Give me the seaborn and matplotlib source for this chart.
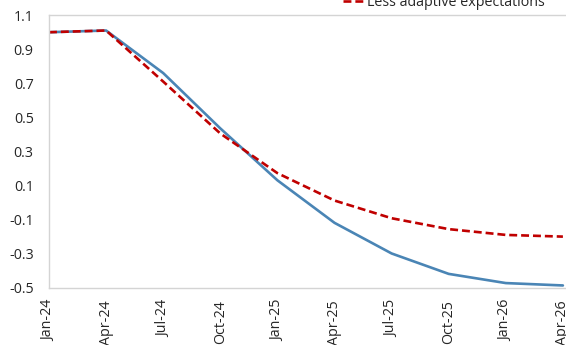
import matplotlib
matplotlib.use("Agg")
import matplotlib.pyplot as plt
import seaborn as sns
import numpy as np
import pandas as pd

quarters = ["Jan-24", "Apr-24", "Jul-24", "Oct-24", "Jan-25",
            "Apr-25", "Jul-25", "Oct-25", "Jan-26", "Apr-26"]
baseline = [1.00, 1.01, 0.76, 0.435, 0.13, -0.12, -0.30, -0.42, -0.474, -0.488]
less_adaptive = [1.00, 1.01, 0.71, 0.405, 0.172, 0.011, -0.093, -0.157, -0.191, -0.201]

series_names = ["Baseline", "Less adaptive expectations"]
colors = ["#4a85b5", "#c00000"]

df = pd.DataFrame({
    "t": np.tile(np.arange(len(quarters)), 2),
    "value": baseline + less_adaptive,
    "scenario": np.repeat(series_names, len(quarters)),
})

sns.set_style("white")
plt.rcParams["font.family"] = ["Open Sans", "DejaVu Sans"]

fig = plt.figure(figsize=(5.66, 3.45), dpi=100)
ax = fig.add_axes([49 / 566, 57.5 / 345, 517 / 566, 272.3 / 345])

sns.lineplot(data=df, x="t", y="value", hue="scenario", style="scenario",
             palette=colors, dashes={series_names[0]: "", series_names[1]: (3.0, 1.5)},
             linewidth=1.9, ax=ax, legend=False)

ax.set_xlim(0, 517 / 57.1)
ax.set_ylim(-0.5, 1.1)
yt = np.arange(-0.5, 1.11, 0.2)
ax.set_yticks(yt)
ax.set_yticklabels([f"{v:.1f}" for v in yt])
ax.set_xticks(np.arange(len(quarters)))
ax.set_xticklabels(quarters, rotation=90)
ax.set_xlabel("")
ax.set_ylabel("")

for side in ["left", "bottom", "top"]:
    ax.spines[side].set_color("#d4d4d4")
    ax.spines[side].set_linewidth(1.0)
ax.spines["right"].set_visible(False)
ax.tick_params(axis="both", direction="in", length=3.5, width=1.0,
               color="#d4d4d4", labelsize=10.3, labelcolor="#262626")
ax.tick_params(axis="x", pad=9)
ax.tick_params(axis="y", pad=11)

handles = ax.get_lines()[:2]
leg = fig.legend(handles, series_names, loc="lower left",
                 bbox_to_anchor=(343 / 566, 1 - 10 / 345),
                 bbox_transform=fig.transFigure, frameon=False,
                 fontsize=10.3, handlelength=1.55, handletextpad=0.15,
                 borderpad=0, borderaxespad=0, labelspacing=0.3)
for t in leg.get_texts():
    t.set_color("#262626")

fig.savefig("out.png", dpi=100)
